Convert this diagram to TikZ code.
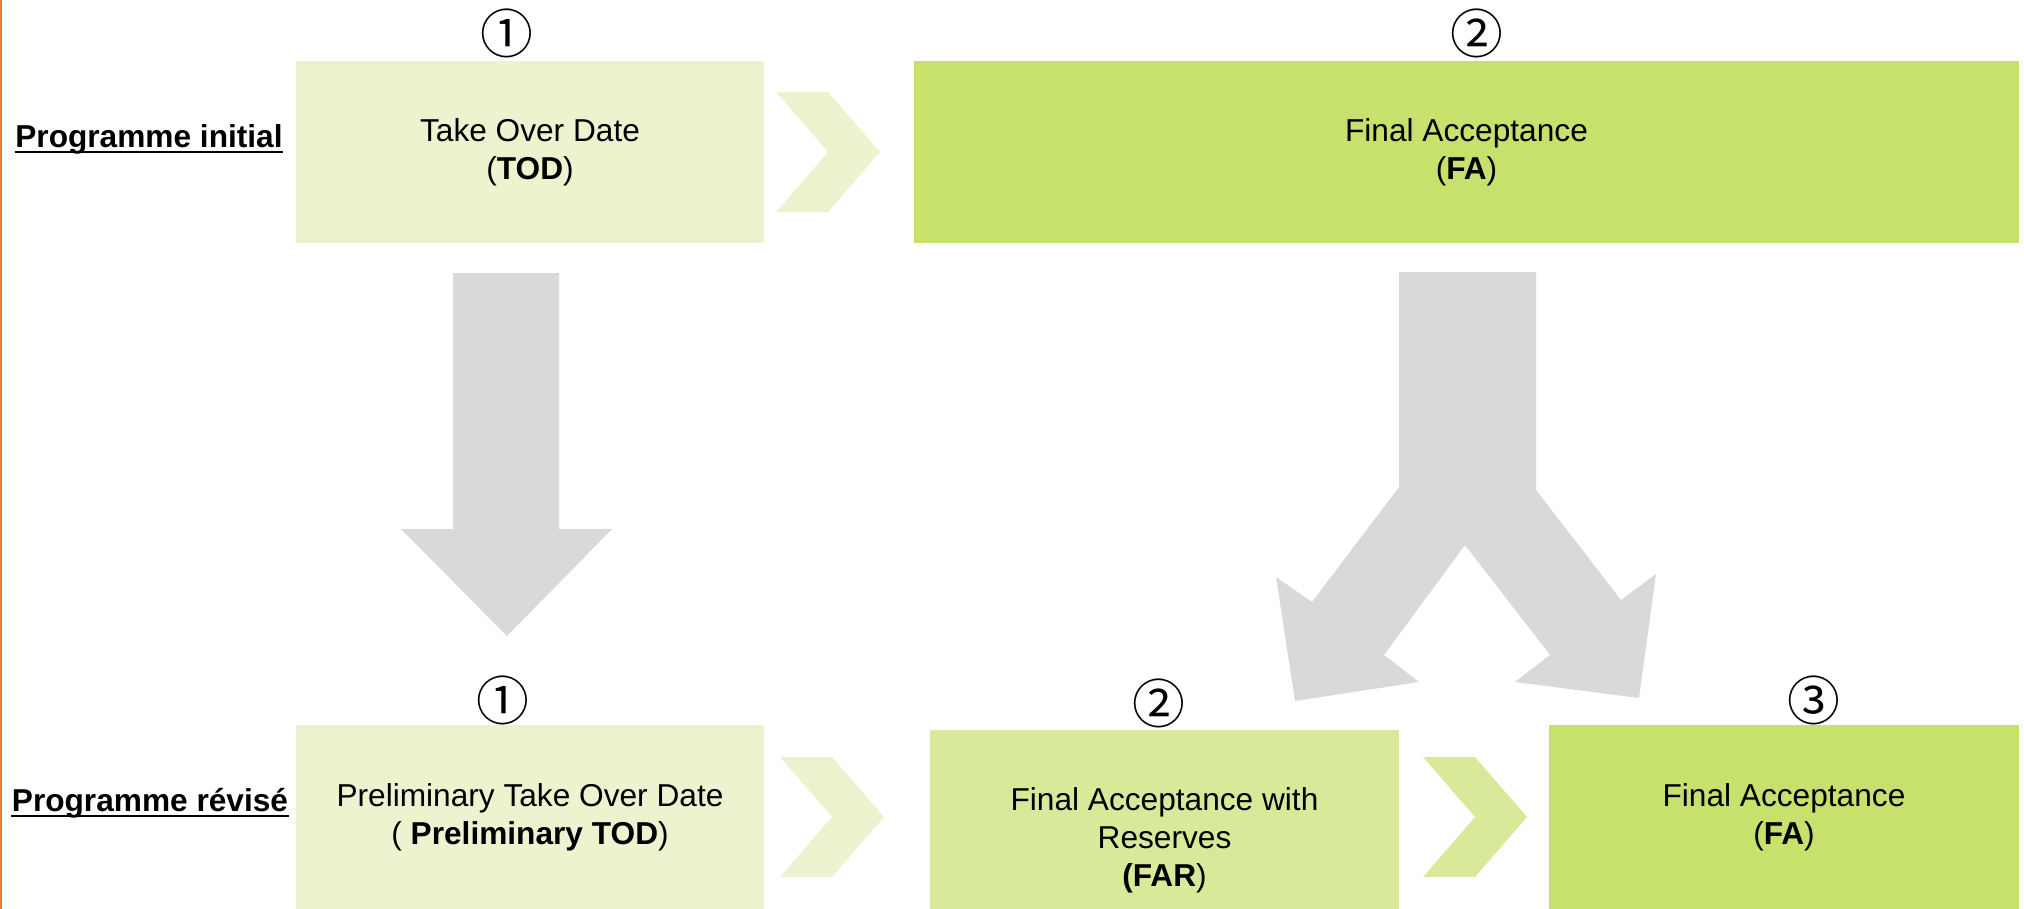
\documentclass[tikz,border=0pt]{standalone}
\usepackage{fontspec}
\setmainfont{Liberation Sans}
\newfontfamily\circledfont{Noto Sans CJK JP}
\usetikzlibrary{positioning,calc}

\definecolor{palegreen}{RGB}{235,244,207}
\definecolor{midgreen}{RGB}{216,234,154}
\definecolor{deepgreen}{RGB}{198,225,108}
\definecolor{arrowgrey}{RGB}{217,217,217}
\definecolor{edgeorange}{RGB}{237,125,49}

\def\chevronw{52}
\def\chevronh{60}

\begin{document}
\begin{tikzpicture}[x=0.01cm,y=-0.01cm]
	\tikzstyle{stage}=[rectangle,inner sep=0pt,align=center,font=\fontsize{9}{10.8}\selectfont]
	\tikzstyle{pale stage}=[stage,fill=palegreen]
	\tikzstyle{mid stage}=[stage,fill=midgreen]
	\tikzstyle{deep stage}=[stage,fill=deepgreen]
	\tikzstyle{step num}=[inner sep=0pt,font=\circledfont\fontsize{15}{15}\selectfont]
	\tikzstyle{programme}=[inner sep=0pt,anchor=base,font=\bfseries\fontsize{9}{10.8}\selectfont]
	\tikzstyle{big arrow}=[fill=arrowgrey]
	
	\useasboundingbox (0,0) rectangle (2024,909);
	\clip (0,0) rectangle (2024,909);
	
	% Orange rule on the left edge
	\fill[edgeorange] (0,0) rectangle (2,909);
	
	% Draw the stages of the initial programme
	\node[pale stage, minimum width=4.68cm, minimum height=1.82cm] (tod) at (530,152) {Take Over Date\\(\textbf{TOD})};
	\node[deep stage, minimum width=11.05cm, minimum height=1.82cm] (fa1) at (1466.5,152) {Final Acceptance\\(\textbf{FA})};
	
	% Draw the stages of the revised programme
	\node[pale stage, minimum width=4.68cm, minimum height=1.84cm] (ptod) at (530,817) {Preliminary Take Over Date\\( \textbf{Preliminary TOD})};
	\node[mid stage, minimum width=4.69cm, minimum height=2.2cm] (far) at (1164.5,840) {Final Acceptance with\\Reserves\\\textbf{(FAR})};
	\node[deep stage, minimum width=4.7cm, minimum height=1.84cm] (fa2) at (1784,817) {Final Acceptance\\(\textbf{FA})};
	
	% Step numbers above the stages
	\foreach \name/\x/\y/\lbl in {n1/507/33/①, n2/1477/33/②, n3/503/700/①, n4/1159/703/②, n5/1814/700/③}
	\node[step num] (\name) at (\x,\y) {\lbl};
	
	% Programme labels, underlined
	\node[programme] (init) at (149,147) {Programme initial};
	\node[programme] (rev) at (150,811) {Programme révisé};
	\foreach \name in {init,rev}
	\draw[line width=0.8pt] ($(\name.base west)+(0,5)$) -- ($(\name.base east)+(0,5)$);
	
	% Chevrons between the stages
	\foreach \x/\y/\col in {828/152/palegreen, 832/817/palegreen, 1475/817/midgreen}
	\fill[\col] (\x-\chevronw,\y-\chevronh) -- ++(\chevronw,0) -- ++(\chevronw,\chevronh) -- ++(-\chevronw,\chevronh) -- ++(-\chevronw,0) -- ++(\chevronw,-\chevronh) -- cycle;
	
	% Arrow from TOD down to the preliminary TOD
	\fill[big arrow] (453,273) -- (559,273) -- (559,529) -- (612,529) -- (507,636) -- (401,529) -- (453,529) -- cycle;
	
	% Split arrow from FA down to FAR and FA
	\fill[big arrow] (1399,272) -- (1536,272) -- (1536,490) -- (1621,600) -- (1656,574) -- (1639,698) -- (1515,682) -- (1550,655) -- (1465,545) -- (1384,655) -- (1419,682) -- (1295,701) -- (1276,577) -- (1312,602) -- (1399,487) -- cycle;
\end{tikzpicture}
\end{document}
